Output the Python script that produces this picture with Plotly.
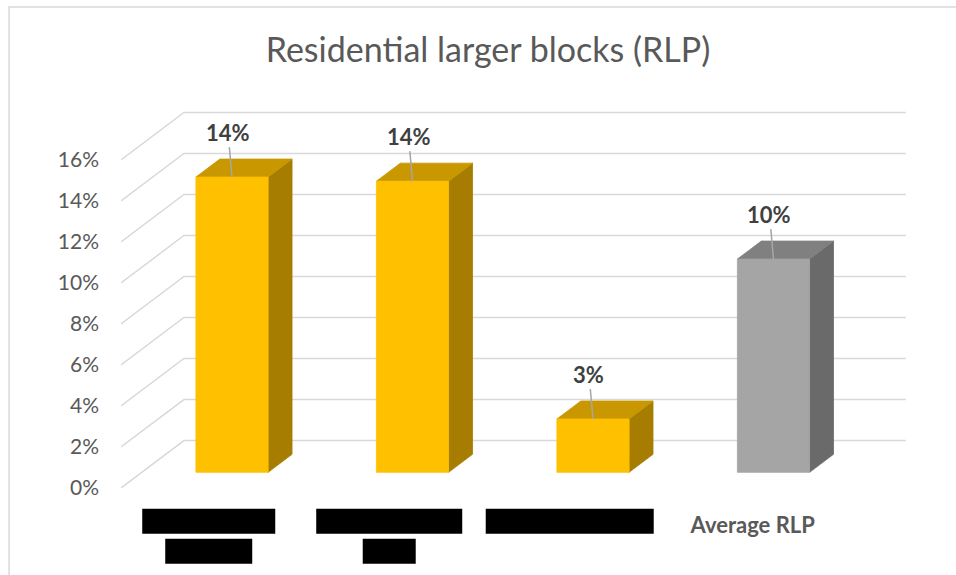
import plotly.graph_objects as go

# ---------------- data ----------------
categories = ["", "", "", "Average RLP"]   # first three category names are redacted in the source
values = [0.144, 0.142, 0.026, 0.104]
y_ticks = [0.00, 0.02, 0.04, 0.06, 0.08, 0.10, 0.12, 0.14, 0.16]
title_text = "Residential larger blocks (RLP)"

# ---------------- styling / geometry ----------------
W, H = 956, 575
PL, PR, PT, PB = 120.5, 916.0, 100.0, 488.3      # plot-area edges in pixels
CAT_PX = 180.6                                    # pixels per category (front plane)
UNIT_PX = 2052.0                                  # pixels per 1.0 (=100%)
DEPTH_X_PX, DEPTH_Y_PX = 63.0, 47.5               # oblique depth of the walls
dxw = DEPTH_X_PX / CAT_PX
dyw = DEPTH_Y_PX / UNIT_PX
F_FRONT, F_BACK = 0.33, 0.71                      # bar depth (fraction of wall depth)
HALF_W = 0.2                                      # half bar width in category units

front_cols = ["#FFC000", "#FFC000", "#FFC000", "#A5A5A5"]
top_cols = ["#C99700", "#C99700", "#C99700", "#808080"]
side_cols = ["#A67D00", "#A67D00", "#A67D00", "#6A6A6A"]
GRID = "#D9D9D9"
TXT = "#595959"
FONT = "Lato"

x_range = [-0.5, -0.5 + (PR - PL) / CAT_PX]
y_range = [0, (PB - PT) / UNIT_PX]
n = len(categories)

fig = go.Figure()

# gridlines: left side wall diagonals + back wall horizontals
gx, gy = [], []
for t in y_ticks:
    gx += [-0.5, -0.5 + dxw, n - 0.5 + dxw, None]
    gy += [t, t + dyw, t + dyw, None]
fig.add_trace(go.Scatter(x=gx, y=gy, mode="lines", line=dict(color=GRID, width=1.5),
                         hoverinfo="skip", showlegend=False))

# 3-D style bars
fdx, fdy = F_FRONT * dxw, F_FRONT * dyw
bdx, bdy = F_BACK * dxw, F_BACK * dyw
for i, v in enumerate(values):
    xl, xr = i - HALF_W, i + HALF_W
    side = ([xr + fdx, xr + bdx, xr + bdx, xr + fdx, xr + fdx],
            [fdy, bdy, v + bdy, v + fdy, fdy])
    top = ([xl + fdx, xr + fdx, xr + bdx, xl + bdx, xl + fdx],
           [v + fdy, v + fdy, v + bdy, v + bdy, v + fdy])
    front = ([xl + fdx, xr + fdx, xr + fdx, xl + fdx, xl + fdx],
             [fdy, fdy, v + fdy, v + fdy, fdy])
    for (px, py), col in ((side, side_cols[i]), (top, top_cols[i]), (front, front_cols[i])):
        fig.add_trace(go.Scatter(x=px, y=py, mode="lines", fill="toself", fillcolor=col,
                                 line=dict(color=col, width=0.8), hoverinfo="skip",
                                 showlegend=False))

# data labels with leader lines
for i, v in enumerate(values):
    fig.add_annotation(x=i + fdx, y=v + fdy, xref="x", yref="y",
                       text="<b>%s</b>" % format(v, ".0%"),
                       showarrow=True, arrowhead=0, arrowwidth=1.5, arrowcolor="#A6A6A6",
                       ax=-4, ay=-45, standoff=0,
                       font=dict(family=FONT, size=22, color="#404040"))

# redacted category labels (black boxes), anchored at the category positions
redactions = [[(133, 0), (87, 1)], [(146, 0), (53, 1)], [(168, 0)], []]
for i, boxes in enumerate(redactions):
    for w, row in boxes:
        y_top = -20.7 - row * 30.0
        fig.add_shape(type="rect", xref="x", yref="paper", xsizemode="pixel",
                      ysizemode="pixel", xanchor=i, yanchor=0,
                      x0=-w / 2 - 2.5, x1=w / 2 - 2.5, y0=y_top, y1=y_top - 25,
                      fillcolor="black", line=dict(width=0))

# chart border (top and left only visible)
def px2paper_x(p):
    return (p - PL) / (PR - PL)

def px2paper_y(p):
    return (PB - p) / (PB - PT)

fig.add_shape(type="path", xref="paper", yref="paper",
              path="M %f,%f L %f,%f L %f,%f" % (px2paper_x(8.5), px2paper_y(600),
                                                px2paper_x(8.5), px2paper_y(7),
                                                px2paper_x(980), px2paper_y(7)),
              line=dict(color=GRID, width=1.5))

fig.update_layout(
    width=W, height=H,
    margin=dict(l=PL, r=W - PR, t=PT, b=H - PB, pad=0),
    paper_bgcolor="white", plot_bgcolor="rgba(0,0,0,0)",
    showlegend=False,
    title=dict(text=title_text, x=488 / W, xanchor="center", y=1 - 50 / H, yanchor="middle",
               font=dict(family=FONT, size=34, color=TXT)),
    xaxis=dict(range=x_range, tickvals=list(range(n)),
               ticktext=["<b>%s</b>" % c for c in categories],
               showgrid=False, zeroline=False, showline=False, ticks="",
               ticklabelstandoff=22,
               tickfont=dict(family=FONT, size=22, color=TXT), fixedrange=True),
    yaxis=dict(range=y_range, tickvals=y_ticks, tickformat=".0%",
               showgrid=False, zeroline=False, showline=False, ticks="",
               ticklabelstandoff=21,
               tickfont=dict(family=FONT, size=21, color=TXT), fixedrange=True),
)

fig.write_html("out.html", config={"displayModeBar": False},
               post_script="document.body.style.margin='0';")
